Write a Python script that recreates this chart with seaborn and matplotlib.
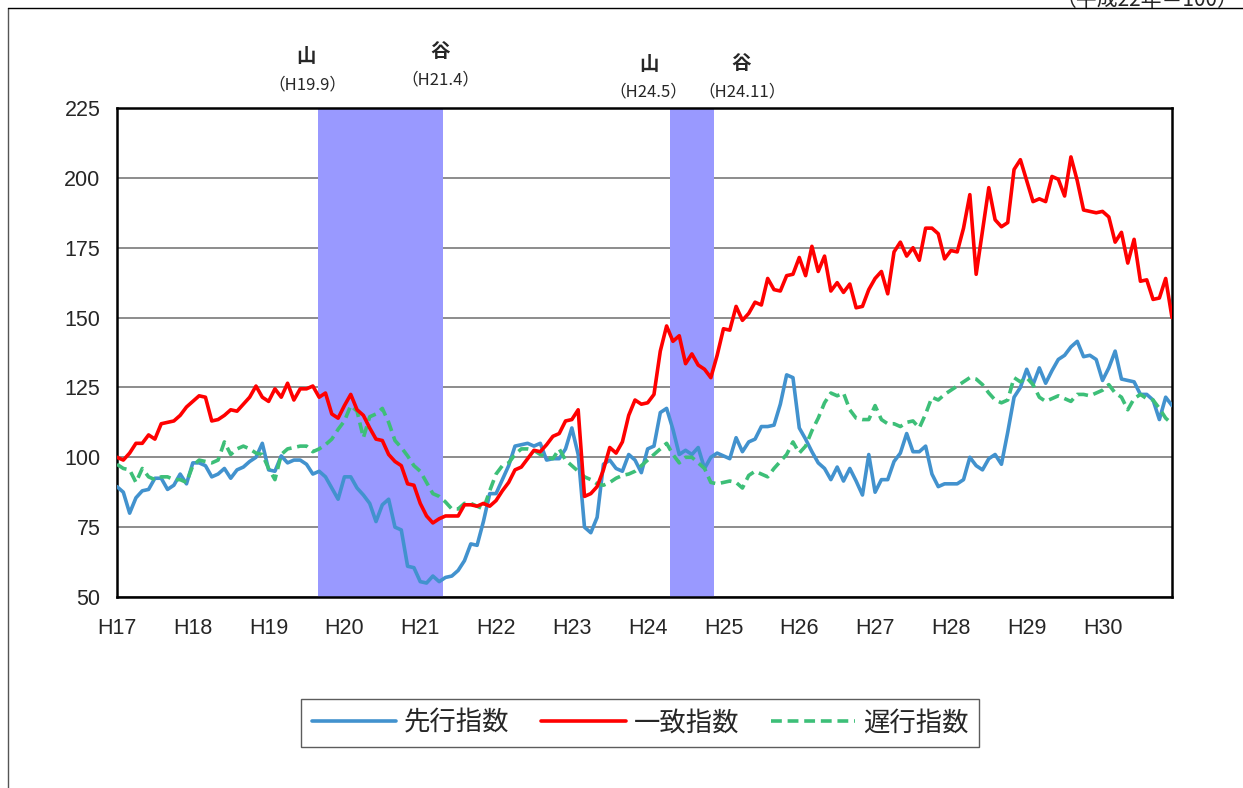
import numpy as np
import pandas as pd
import matplotlib
matplotlib.use('Agg')
import matplotlib.pyplot as plt
from matplotlib.lines import Line2D
import seaborn as sns

# 景気動向指数（平成22年＝100） 月次 H17.1 〜 H30.12
senko = [89.5, 87.5, 80, 85.5, 88, 88.5, 92.5, 92.5, 88.5, 90, 94, 90.5,
         98, 98, 97, 93, 94, 96, 92.5, 95.5, 96.5, 98.5, 100, 105,
         95.5, 95, 100.5, 98, 99, 99, 97.5, 94, 95, 93, 89, 85,
         93, 93, 89, 86.5, 83.5, 77, 83, 85, 75, 74, 61, 60.5,
         55.5, 55, 57.5, 55.5, 57, 57.5, 59.5, 63, 69, 68.5, 77, 87,
         87, 92, 97, 104, 104.5, 105, 104, 105, 99, 99.5, 99.5, 103,
         110.5, 101, 75, 73, 78.5, 97.5, 99, 96, 95, 101, 99, 94.5,
         103, 104, 116, 117.5, 110, 101, 102.5, 101, 103.5, 96, 100, 101.5,
         100.5, 99.5, 107, 102, 105.5, 106.5, 111, 111, 111.5, 119, 129.5, 128.5,
         110.5, 106.5, 102, 98, 96, 92, 96.5, 91.5, 96, 91.5, 86.5, 101,
         87.5, 92, 92, 98.5, 101.5, 108.5, 102, 102, 104, 94, 89.5, 90.5,
         90.5, 90.5, 92, 100, 97, 95.5, 99.5, 101, 97.5, 109, 121.5, 125,
         131.5, 126, 132, 126.5, 131, 135, 136.5, 139.5, 141.5, 136, 136.5, 135,
         127.5, 132, 138, 128, 127.5, 127, 122.5, 122.5, 120.5, 113.5, 121.5, 118.5]

itchi = [100, 99, 101.5, 105, 105, 108, 106.5, 112, 112.5, 113, 115, 118,
         120, 122, 121.5, 113, 113.5, 115, 117, 116.5, 119, 121.5, 125.5, 121.5,
         120, 124.5, 121.5, 126.5, 120.5, 124.5, 124.5, 125.5, 121.5, 123, 115.5, 114,
         118.5, 122.5, 117, 115, 110.5, 106.5, 106, 101, 98.5, 97, 90.5, 90,
         83.5, 79, 76.5, 78, 79, 79, 79, 83, 83, 82.5, 83.5, 82.5,
         84.5, 88, 91, 95.5, 96.5, 99.5, 102.5, 102, 104.5, 107.5, 108.5, 113,
         113.5, 117, 86, 87, 89.5, 95.5, 103.5, 101.5, 105.5, 115, 120.5, 119,
         119.5, 122.5, 138, 147, 141.5, 143.5, 133.5, 137, 133, 131.5, 128.5, 136.5,
         146, 145.5, 154, 149, 151.5, 155.5, 154.5, 164, 160, 159.5, 165, 165.5,
         171.5, 165, 175.5, 166.5, 172, 159.5, 162.5, 159, 162, 153.5, 154, 160,
         164, 166.5, 158.5, 173.5, 177, 172, 175, 170.5, 182, 182, 180, 171,
         174, 173.5, 182, 194, 165.5, 181, 196.5, 185, 182.5, 184, 203, 206.5,
         199, 191.5, 192.5, 191.5, 200.5, 199.5, 193.5, 207.5, 199, 188.5, 188, 187.5,
         188, 186, 177, 180.5, 169.5, 178, 163, 163.5, 156.5, 157, 164, 150]

chien = [97.5, 96, 95.5, 91, 96, 93, 92, 93, 93, 92, 92, 91,
         97, 99, 98.5, 98, 99, 105.5, 101, 103, 104, 103, 101.5, 101,
         96, 92, 101, 103, 103.5, 104, 104, 102, 103, 104.5, 106.5, 110,
         113, 118.5, 116.5, 107, 114.5, 115.5, 117.5, 112.5, 106, 103.5, 100.5, 97,
         95, 91, 87, 86, 84, 81.5, 81.5, 83.5, 83.5, 82.5, 81.5, 88,
         94, 97, 98, 101, 103, 103, 102.5, 101, 100, 99.5, 103, 99,
         97, 95, 93, 92, 90.5, 90, 91, 92.5, 93.5, 94, 95, 97,
         99, 101, 103, 105, 101, 98, 100, 100, 98, 96, 91, 90.5,
         91, 91.5, 91, 89, 93.5, 95, 94, 93, 96, 98.5, 101, 105.5,
         101.5, 104, 109.5, 114, 119.5, 123, 122, 123, 117, 114, 113.5, 113.5,
         118.5, 113.5, 112, 112, 111, 112.5, 113, 110.5, 115.5, 121.5, 120.5, 122.5,
         124, 125.5, 127, 128.5, 128, 126, 123, 120.5, 119.5, 120.5, 128.5, 127,
         128.5, 126, 121.5, 120, 121, 122, 121, 120, 122.5, 122.5, 122, 123,
         124, 126, 123, 121.5, 117, 121, 122.5, 121, 120.5, 117.5, 114, 112]

years = ['H17', 'H18', 'H19', 'H20', 'H21', 'H22', 'H23',
         'H24', 'H25', 'H26', 'H27', 'H28', 'H29', 'H30']

# 景気後退期（山〜谷）
bands = [(31.8, 51.6), (87.5, 94.5)]

df = pd.DataFrame({'month': np.arange(len(senko)),
                   '先行指数': senko, '一致指数': itchi, '遅行指数': chien})

sns.set_style('white')
plt.rcParams['font.family'] = ['Noto Sans CJK JP', 'DejaVu Sans']

W, H = 1243, 788
fig = plt.figure(figsize=(W / 100, H / 100), dpi=100)
ax = fig.add_axes([117 / W, 1 - 597 / H, (1172 - 117) / W, (597 - 108) / H])

for s, e in bands:
    ax.axvspan(s, e, color='#9999ff', lw=0, zorder=1)

sns.lineplot(data=df, x='month', y='先行指数', ax=ax, color='#4292ce', lw=2.6, label='先行指数', zorder=3)
sns.lineplot(data=df, x='month', y='一致指数', ax=ax, color='#ff0000', lw=2.6, label='一致指数', zorder=4)
sns.lineplot(data=df, x='month', y='遅行指数', ax=ax, color='#3dbf78', lw=2.6,
             linestyle=(0, (3, 1.6)), label='遅行指数', zorder=3)

ax.set_xlim(0, len(senko) - 1)
ax.set_ylim(50, 225)
ax.set_yticks(range(50, 226, 25))
ax.set_xticks(range(0, len(senko), 12))
ax.set_xticklabels(years)
ax.set_xlabel('')
ax.set_ylabel('')
ax.set_axisbelow(True)
ax.grid(axis='y', color='#8c8c8c', lw=1.4)
ax.grid(axis='x', visible=False)
ax.tick_params(axis='x', direction='in', length=6, width=1.2, labelsize=15.5, pad=15)
ax.tick_params(axis='y', length=0, labelsize=15.5, pad=12)
for lab in ax.get_xticklabels() + ax.get_yticklabels():
    lab.set_family(['Liberation Sans', 'DejaVu Sans'])
for sp in ax.spines.values():
    sp.set_color('black')
    sp.set_linewidth(1.8)

# 山・谷の注記
notes = [(306, 57, '山', 14), (307, 85, '（H19.9）', 12),
         (440, 52, '谷', 14), (440, 80, '（H21.4）', 12),
         (649, 64, '山', 14), (648, 92, '（H24.5）', 12),
         (741, 64, '谷', 14), (742, 92, '（H24.11）', 12)]
for x, y, t, fs in notes:
    fig.text(x / W, 1 - y / H, t, ha='center', va='center', fontsize=fs,
             fontweight='bold' if len(t) == 1 else 'normal')

fig.text(1238 / W, 1.0, '（平成22年＝100）', ha='right', va='center', fontsize=15)

# 外枠
fig.add_artist(Line2D([8 / W, 8 / W], [0, 1 - 8 / H], color='#555555', lw=1, transform=fig.transFigure))
fig.add_artist(Line2D([8 / W, 1], [1 - 8 / H, 1 - 8 / H], color='black', lw=1, transform=fig.transFigure))

handles, labels = ax.get_legend_handles_labels()
ax.legend_.remove()
leg = fig.legend(handles, labels, loc='center', bbox_to_anchor=(640 / W, 1 - 723 / H),
                 ncol=3, fontsize=19, frameon=True, fancybox=False, handlelength=3.2,
                 columnspacing=1.2, handletextpad=0.3, borderpad=0.4)
leg.get_frame().set_edgecolor('#333333')
leg.get_frame().set_linewidth(1.0)

fig.savefig('out.png', dpi=100)
